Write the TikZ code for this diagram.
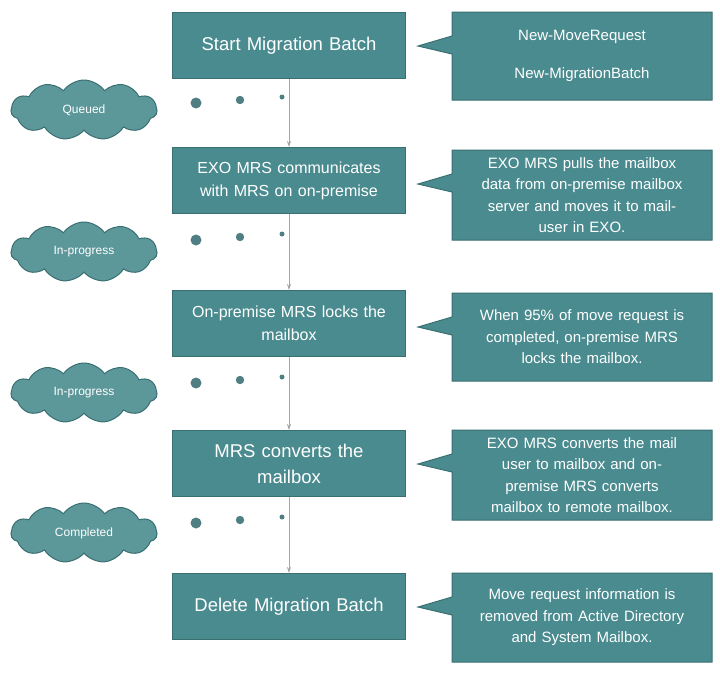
\documentclass[tikz,border=0pt]{standalone}
\usepackage{fontspec}
\setmainfont{Liberation Sans}
\usetikzlibrary{shapes.symbols,arrows.meta}
\definecolor{teal1}{HTML}{4A8B8F}
\definecolor{tealb}{HTML}{3A6F72}
\definecolor{dotc}{HTML}{4F7F82}
\tikzset{
 box/.style={draw=tealb,line width=1pt,fill=teal1,minimum width=233pt,minimum height=66pt,text width=225pt,align=center,text=white,anchor=north west,inner sep=0pt,font=\fontsize{16}{23}\selectfont},
 big/.style={font=\fontsize{18.5}{26}\selectfont},
 cl/.style={cloud,cloud puffs=11,cloud puff arc=110,aspect=2.4,draw=tealb,line width=1pt,fill=teal1!90!white,text=white,minimum width=146pt,minimum height=60pt,inner sep=0pt,font=\fontsize{12}{14}\selectfont},
 ctext/.style={text=white,align=center,text width=258pt,font=\fontsize{15}{21.5}\selectfont},
 co/.style={draw=tealb,line width=1pt,fill=teal1},
 arr/.style={draw=gray!70,line width=0.8pt,-{Stealth[length=6pt,width=4pt]}},
 dt/.style={fill=dotc,draw=none}
}
\begin{document}
\begin{tikzpicture}[x=1pt,y=-1pt]
\useasboundingbox (0,0) rectangle (720,673);
\node[box,big] (b1) at (172,12) {Start Migration Batch};
\node[box] (b2) at (172,147) {EXO MRS communicates\\with MRS on on-premise};
\node[box] (b3) at (172,290) {On-premise MRS locks the\\mailbox};
\node[box,big] (b4) at (172,430) {MRS converts the\\mailbox};
\node[box,big] (b5) at (172,573) {Delete Migration Batch};
\foreach \a/\b in {b1/b2,b2/b3,b3/b4,b4/b5}{
 \draw[arr] (\a.south) -- (\b.north);
}
\foreach \y/\h/\n in {12/88/c1,150/90/c2,293/88/c3,430/90/c4,573/89/c5}{
 \draw[co] (452,\y) -- (712,\y) -- (712,\y+\h) -- (452,\y+\h) -- (452,\y+42) -- (418,\y+34) -- (452,\y+24) -- cycle;
 \coordinate (\n) at (582,\y+\h/2);
}
\node[ctext] (t1) at (c1) {New-MoveRequest\\[16pt]New-MigrationBatch};
\node[ctext] (t2) at (c2) {EXO MRS pulls the mailbox\\data from on-premise mailbox\\server and moves it to mail-\\user in EXO.};
\node[ctext] (t3) at (c3) {When 95\% of move request is\\completed, on-premise MRS\\locks the mailbox.};
\node[ctext] (t4) at (c4) {EXO MRS converts the mail\\user to mailbox and on-\\premise MRS converts\\mailbox to remote mailbox.};
\node[ctext] (t5) at (c5) {Move request information is\\removed from Active Directory\\and System Mailbox.};
\node[cl] (k1) at (84,110) {Queued};
\node[cl] (k2) at (84,252) {In-progress};
\node[cl] (k3) at (84,393) {In-progress};
\node[cl] (k4) at (84,533) {Completed};
\foreach \y in {103,240,383,523}{
 \fill[dt] (196,\y) circle (5.5);
 \fill[dt] (240,\y-3) circle (4.2);
 \fill[dt] (282,\y-6) circle (2.5);
}
\end{tikzpicture}
\end{document}
